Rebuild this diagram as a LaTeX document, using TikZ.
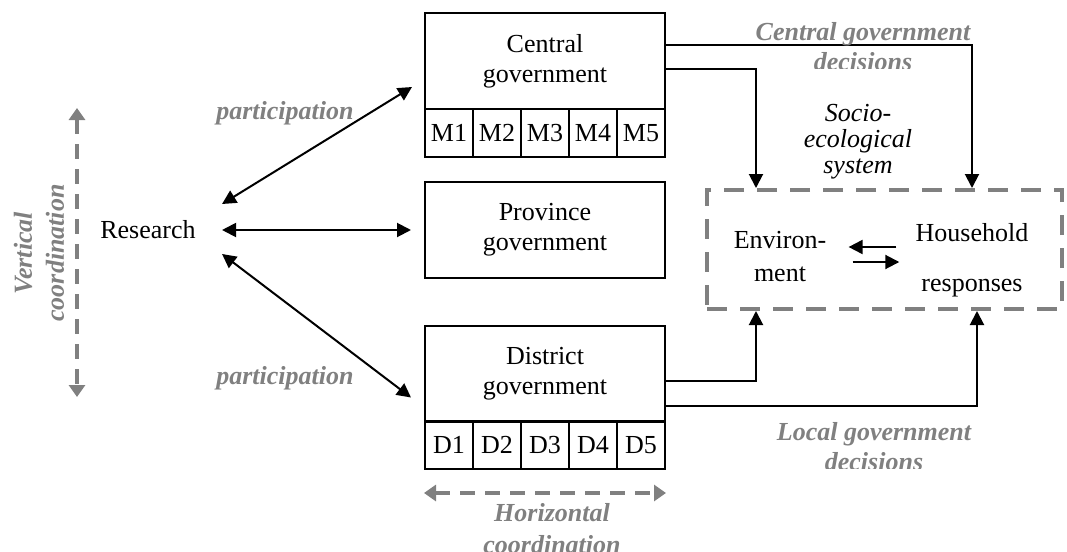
\documentclass[tikz,border=0pt]{standalone}
\usepackage{fontspec}
\setmainfont{Liberation Serif}
\usetikzlibrary{positioning}
\usetikzlibrary{arrows.meta}
\definecolor{labelgray}{RGB}{128,128,128}
\newcommand\figsize{\fontsize{13}{15}\selectfont}
\tikzset{
  govbox/.style={draw, line width=1pt, minimum width=120pt, minimum height=48pt, align=center, inner sep=0pt, font=\figsize},
  cell/.style={draw, line width=1pt, minimum width=24pt, minimum height=24pt, inner sep=0pt, font=\figsize},
  txt/.style={inner sep=0pt, align=center, font=\figsize},
  glabel/.style={text=labelgray, inner sep=0pt, align=center, font=\figsize\bfseries\itshape},
  biarrow/.style={line width=1pt, {Triangle[length=7pt,width=7pt]}-{Triangle[length=7pt,width=7pt]}},
  arr/.style={line width=1pt, -{Triangle[length=7pt,width=7pt]}},
  coordarrow/.style={labelgray, line width=2pt, dash pattern=on 7.5pt off 5pt, {Triangle[length=6pt,width=8pt]}-{Triangle[length=6pt,width=8pt]}},
  sesbox/.style={draw=labelgray, line width=2pt, dash pattern=on 10pt off 6.5pt, minimum width=177.5pt, minimum height=59.5pt}
}
\begin{document}
\begin{tikzpicture}[x=0.5pt,y=-0.5pt]
\useasboundingbox (0,0) rectangle (1067,552);
\clip (0,0) rectangle (1067,552);
%government levels
\node[govbox] (central) at (545,61) {Central\\government};
\node[govbox] (province) at (545,230) {Province\\government};
\node[govbox] (district) at (545,373.5) {District\\government};
\foreach \i in {1,...,5} {
  \node[cell] (m\i) at ({401+48*\i},133) {M\i};
  \node[cell] (d\i) at ({401+48*\i},445) {D\i};
}
%research
\node[txt] (research) at (148,230) {Research};
%socio-ecological system
\node[sesbox] (ses) at (884.5,249.5) {};
\node[txt, font=\fontsize{13}{16.5}\selectfont] (env) at (780,256.5) {Environ-\\ment};
\node[txt, font=\fontsize{13}{25}\selectfont] (household) at (972,260) {Household\\responses};
\node[txt, font=\fontsize{13}{13}\selectfont\itshape] (socio) at (858,142) {Socio-\\ecological\\system};
%participation arrows
\draw[biarrow] ([xshift=13pt,yshift=13pt]research.east) -- ([xshift=-6pt,yshift=-13pt]central.west);
\draw[biarrow] ([xshift=13pt]research.east) -- ([xshift=-6.5pt]province.west);
\draw[biarrow] ([xshift=13pt,yshift=-12pt]research.east) -- ([xshift=-6.5pt,yshift=-12pt]district.west);
%decisions
\draw[arr] ([yshift=8pt]central.east) -| (household |- ses.north);
\draw[arr] ([yshift=-4pt]central.east) -| ([xshift=-12pt]env |- ses.north);
\draw[arr] ([yshift=-3.75pt]district.east) -| ([xshift=-12pt]env |- ses.south);
\draw[arr] ([yshift=-16.25pt]district.east) -| ([xshift=2.5pt]household |- ses.south);
%feedback
\draw[arr] ([xshift=-9.5pt,yshift=6.5pt]household.west) -- ([xshift=11pt,yshift=4.75pt]env.east);
\draw[arr] ([xshift=13pt,yshift=-2.75pt]env.east) -- ([xshift=-8pt,yshift=-1pt]household.west);
%coordination
\coordinate (vtop) at (77,108);
\coordinate (vbot) at (77,397);
\draw[coordarrow] (vtop) -- (vbot);
\draw[coordarrow] ([yshift=-11.5pt]d1.south west) -- ([yshift=-11.5pt]d5.south east);
%labels
\node[glabel] (part1) at (285,113) {participation};
\node[glabel] (part2) at (285,378) {participation};
\node[glabel, rotate=90, font=\fontsize{13}{16}\selectfont\bfseries\itshape] (vcoord) at (39,253) {Vertical\\coordination};
\node[glabel, font=\fontsize{13}{16}\selectfont\bfseries\itshape] (hcoord) at (552,529) {Horizontal\\coordination};
\begin{scope}
\clip (700,0) rectangle (1067,68);
\node[glabel] (cgd) at (863,47) {Central government\\decisions};
\end{scope}
\begin{scope}
\clip (700,400) rectangle (1067,468);
\node[glabel] (lgd) at (874,447) {Local government\\decisions};
\end{scope}
\end{tikzpicture}
\end{document}
